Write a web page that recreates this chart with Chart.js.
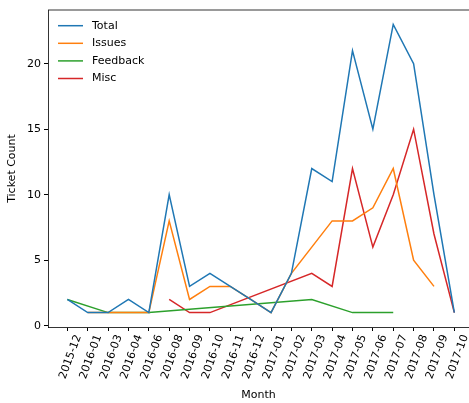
<!DOCTYPE html>
<html>
<head>
<meta charset="utf-8">
<script src="https://cdn.jsdelivr.net/npm/chart.js@4/dist/chart.umd.min.js"></script>
<style>
    html, body { margin: 0; padding: 0; background: #fff; overflow: hidden; }
    canvas { display: block; }
</style>
</head>
<body>
<canvas id="chart" width="469" height="403"></canvas>
<script>
// Chart data
const months = ['2015-12', '2016-01', '2016-03', '2016-04', '2016-06', '2016-08', '2016-09', '2016-10',
    '2016-11', '2016-12', '2017-01', '2017-02', '2017-03', '2017-04', '2017-05', '2017-06',
    '2017-07', '2017-08', '2017-09', '2017-10'];
const total    = [2, 1, 1, 2, 1, 10, 3, 4, 3, 2, 1, 4, 12, 11, 21, 15, 23, 20, 10, 1];
const issues   = [null, 1, 1, 1, 1, 8, 2, 3, 3, 2, 1, 4, 6, 8, 8, 9, 12, 5, 3, null];
const feedback = [2, null, 1, 1, 1, null, null, null, null, null, null, null, 2, null, 1, 1, 1, null, null, null];
const misc     = [null, null, null, null, null, 2, 1, 1, null, null, null, null, 4, 3, 12, 6, 10, 15, 7, 1];
const yTicks = [0, 5, 10, 15, 20];

const FONT = { family: 'DejaVu Sans', size: 11 };

// Turn a series into {x, y} points, skipping months with no value
function toPoints(values) {
    const pts = [];
    values.forEach((v, i) => {
        if (v !== null) pts.push({ x: i, y: v });
    });
    return pts;
}

function series(label, values, color) {
    return {
        label: label,
        data: toPoints(values),
        borderColor: color,
        backgroundColor: color,
        borderWidth: 1.5,
        pointRadius: 0,
        tension: 0,
        fill: false
    };
}

// Top spine (the right one sits just past the page edge) and the legend
const framePlugin = {
    id: 'frame',
    afterDraw(chart) {
        const ctx = chart.ctx;
        const a = chart.chartArea;
        ctx.save();
        ctx.strokeStyle = '#000';
        ctx.lineWidth = 0.8;
        ctx.beginPath();
        ctx.moveTo(a.left, a.top);
        ctx.lineTo(a.right, a.top);
        ctx.stroke();

        ctx.font = FONT.size + 'px ' + FONT.family;
        ctx.textBaseline = 'middle';
        ctx.fillStyle = '#000';
        chart.data.datasets.forEach((ds, i) => {
            const y = a.top + 15.7 + i * 17.6;
            ctx.strokeStyle = ds.borderColor;
            ctx.lineWidth = 1.5;
            ctx.beginPath();
            ctx.moveTo(a.left + 10, y);
            ctx.lineTo(a.left + 35, y);
            ctx.stroke();
            ctx.fillText(ds.label, a.left + 44, y);
        });
        ctx.restore();
    }
};

new Chart(document.getElementById('chart'), {
    type: 'line',
    data: {
        datasets: [
            series('Total', total, '#1f77b4'),
            series('Issues', issues, '#ff7f0e'),
            series('Feedback', feedback, '#2ca02c'),
            series('Misc', misc, '#d62728')
        ]
    },
    options: {
        responsive: false,
        animation: false,
        layout: { padding: { top: 10, right: 0, left: 0, bottom: 0 } },
        plugins: {
            legend: { display: false },
            tooltip: { enabled: false }
        },
        scales: {
            x: {
                type: 'linear',
                min: -0.95,
                max: 19.72,
                afterBuildTicks: (scale) => {
                    scale.ticks = months.map((m, i) => ({ value: i }));
                },
                afterFit: (scale) => {
                    scale.height = 76;
                    scale.paddingLeft = 0;
                    scale.paddingRight = 0;
                },
                grid: { drawOnChartArea: false, drawTicks: true, tickLength: 4, color: '#000' },
                border: { color: '#000', width: 0.8 },
                ticks: {
                    autoSkip: false,
                    minRotation: 70,
                    maxRotation: 70,
                    labelOffset: 11,
                    padding: 2,
                    color: '#000',
                    font: FONT,
                    callback: (v) => months[v]
                },
                title: {
                    display: true,
                    text: 'Month',
                    color: '#000',
                    font: FONT,
                    padding: { top: 0, bottom: 1 }
                }
            },
            y: {
                min: -0.1,
                max: 24.1,
                afterBuildTicks: (scale) => {
                    scale.ticks = yTicks.map(v => ({ value: v }));
                },
                afterFit: (scale) => {
                    scale.width = 48;
                    scale.paddingTop = 0;
                    scale.paddingBottom = 0;
                },
                grid: { drawOnChartArea: false, drawTicks: true, tickLength: 4, color: '#000' },
                border: { color: '#000', width: 0.8 },
                ticks: {
                    padding: 3,
                    color: '#000',
                    font: FONT
                },
                title: {
                    display: true,
                    text: 'Ticket Count',
                    color: '#000',
                    font: FONT,
                    padding: { top: 6, bottom: 0 }
                }
            }
        }
    },
    plugins: [framePlugin]
});
</script>
</body>
</html>
